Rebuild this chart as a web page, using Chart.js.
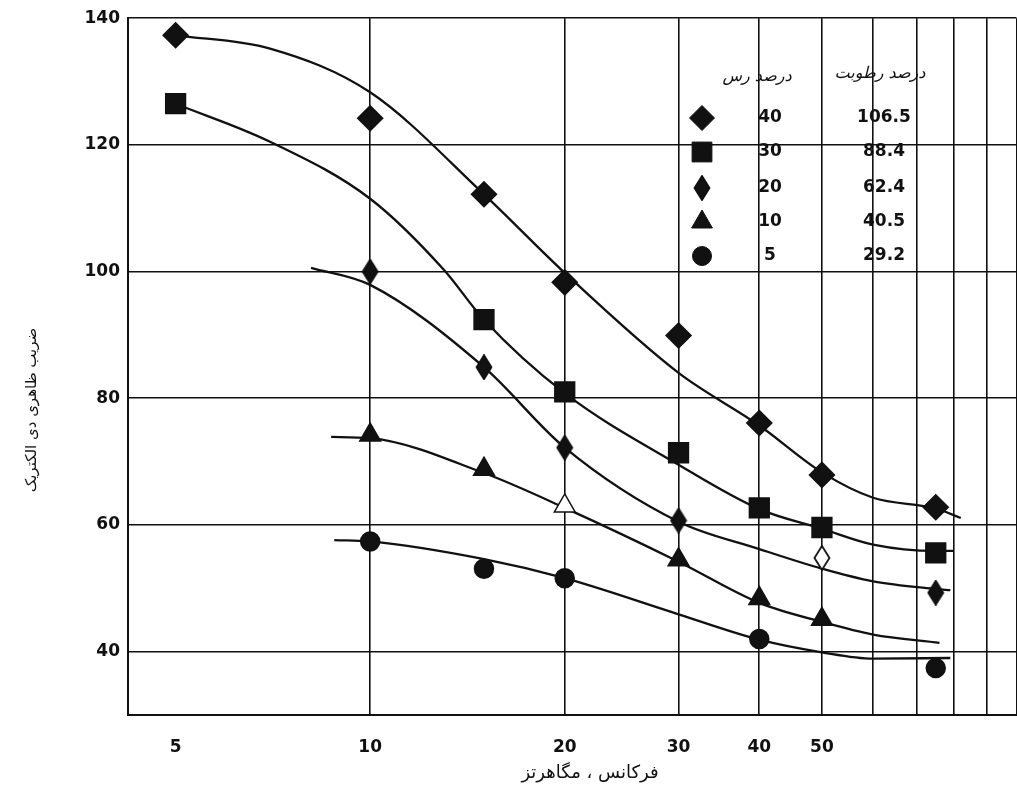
<!DOCTYPE html>
<html>
<head>
<meta charset="utf-8">
<title>ضریب ظاهری دی الکتریک - فرکانس</title>
<script src="https://cdn.jsdelivr.net/npm/chart.js@4.4.0/dist/chart.umd.min.js"></script>
<style>
  html, body { margin: 0; padding: 0; background: #fff; overflow: hidden; }
  /* a bit wider than the window: Chart.js keeps ~15px on the right of the plot */
  #wrap { width: 1032px; height: 791px; position: relative; overflow: hidden; }
  #chart { display: block; }
</style>
</head>
<body>
<div id="wrap"><canvas id="chart"></canvas></div>
<script>
// legend table: clay % and moisture %
const clayPct = [40, 30, 20, 10, 5];
const moisturePct = [106.5, 88.4, 62.4, 40.5, 29.2];

// axes
const xTickLabels = [5, 10, 20, 30, 40, 50];
const xGrid = [10, 20, 30, 40, 50, 60, 70, 80, 90, 100];
const yTicks = [40, 60, 80, 100, 120, 140];

// measured points (frequency MHz, apparent dielectric constant)
const freq40 = [5, 10, 15, 20, 30, 40, 50, 75];
const eps40 = [137.3, 124.2, 112.2, 98.3, 89.9, 76.1, 67.9, 62.8];
const freq30 = [5, 15, 20, 30, 40, 50, 75];
const eps30 = [126.5, 92.4, 81.0, 71.4, 62.7, 59.6, 55.6];
const freq20 = [10, 15, 20, 30, 50, 75];
const eps20 = [100.0, 84.9, 72.2, 60.7, 54.8, 49.3];
const freq10 = [10, 15, 20, 30, 40, 50];
const eps10 = [74.2, 68.8, 63.0, 54.5, 48.4, 45.1];
const freq5 = [10, 15, 20, 40, 75];
const eps5 = [57.4, 53.1, 51.6, 42.0, 37.4];

// hand drawn curves
const fitFreq40 = [5, 7, 10, 15, 20, 30, 40, 50, 60, 75, 82];
const fitEps40 = [137.3, 135.2, 128.3, 112.2, 99.8, 84.0, 75.7, 68.3, 64.3, 62.6, 61.1];
const fitFreq30 = [5, 7, 10, 13, 15, 20, 30, 40, 50, 60, 75, 80];
const fitEps30 = [126.5, 120.5, 111.5, 100.3, 92.4, 80.8, 69.5, 62.5, 59.4, 56.9, 55.9, 55.9];
const fitFreq20 = [8.1, 10, 15, 20, 30, 40, 50, 60, 75, 79];
const fitEps20 = [100.6, 97.9, 84.9, 72.2, 60.5, 56.2, 53.1, 51.1, 49.9, 49.7];
const fitFreq10 = [8.7, 10, 15, 20, 30, 40, 50, 60, 76];
const fitEps10 = [73.9, 73.7, 68.2, 62.7, 54.2, 47.7, 44.7, 42.7, 41.4];
const fitFreq5 = [8.8, 10, 15, 20, 30, 40, 50, 60, 79];
const fitEps5 = [57.6, 57.4, 54.6, 51.6, 45.9, 41.9, 39.9, 38.9, 39.0];

const yTitle = 'ضریب ظاهری دی الکتریک';
const xTitle = 'فرکانس ، مگاهرتز';
const tableHead = ['درصد رس', 'درصد رطوبت'];

const INK = '#111';
const FONT = 'DejaVu Sans';

function pts(xs, ys) {
    return xs.map((x, i) => ({ x: x, y: ys[i] }));
}

// narrow diamond used for the 20% clay series
function thinDiamond(fill) {
    const c = document.createElement('canvas');
    c.width = 18; c.height = 26;
    const g = c.getContext('2d');
    g.beginPath();
    g.moveTo(9, 1); g.lineTo(16.5, 13); g.lineTo(9, 25); g.lineTo(1.5, 13);
    g.closePath();
    g.fillStyle = fill; g.fill();
    g.lineWidth = 1.8; g.strokeStyle = INK; g.stroke();
    return c;
}
const thinSolid = thinDiamond(INK);
const thinHollow = thinDiamond('#fff');

const markers = [
    { pointStyle: 'rectRot', radius: 12.5 },
    { pointStyle: 'rect', radius: 14 },
    { pointStyle: thinSolid, radius: 10 },
    { pointStyle: 'triangle', radius: 12 },
    { pointStyle: 'circle', radius: 9.5 }
];

const measured = [pts(freq40, eps40), pts(freq30, eps30), pts(freq20, eps20), pts(freq10, eps10), pts(freq5, eps5)];
const curves = [pts(fitFreq40, fitEps40), pts(fitFreq30, fitEps30), pts(fitFreq20, fitEps20), pts(fitFreq10, fitEps10), pts(fitFreq5, fitEps5)];

const datasets = [];
curves.forEach(function(c) {
    datasets.push({
        data: c, showLine: true, pointRadius: 0, borderColor: INK, borderWidth: 2.3,
        cubicInterpolationMode: 'monotone', fill: false, order: 2
    });
});
measured.forEach(function(m, i) {
    datasets.push({
        label: clayPct[i] + '%',
        data: m,
        pointStyle: i === 2 ? (c => (c.raw && c.raw.x === 50 ? thinHollow : thinSolid)) : markers[i].pointStyle,
        pointRadius: markers[i].radius,
        backgroundColor: i === 3 ? (c => (c.raw && c.raw.x === 20 ? '#fff' : INK)) : INK,
        borderColor: INK,
        borderWidth: 1.5,
        order: 1
    });
});

// legend table + axis titles
const tablePlugin = {
    id: 'table',
    afterDraw(chart) {
        const ctx = chart.ctx;
        const rows = [118, 152, 188, 222, 256];
        ctx.save();
        ctx.fillStyle = INK;
        ctx.strokeStyle = INK;
        ctx.textAlign = 'center';
        ctx.textBaseline = 'middle';
        ctx.font = 'italic 16px "' + FONT + '"';
        ctx.fillText(tableHead[0], 757, 77);
        ctx.fillText(tableHead[1], 880, 74);
        ctx.font = 'bold 17px "' + FONT + '"';
        rows.forEach(function(y, i) {
            ctx.fillStyle = INK;
            Chart.helpers.drawPoint(ctx, {
                pointStyle: markers[i].pointStyle, radius: markers[i].radius, rotation: 0, borderWidth: 1
            }, 702, y);
            ctx.fillText(String(clayPct[i]), 770, y);
            ctx.fillText(moisturePct[i].toFixed(1), 884, y);
        });
        // axis titles
        ctx.font = '18px "' + FONT + '"';
        ctx.fillText(xTitle, 590, 773);
        ctx.font = '15px "' + FONT + '"';
        ctx.translate(32, 410);
        ctx.rotate(-Math.PI / 2);
        ctx.fillText(yTitle, 0, 0);
        ctx.restore();
    }
};

new Chart(document.getElementById('chart'), {
    type: 'scatter',
    data: { datasets: datasets },
    options: {
        responsive: true,
        maintainAspectRatio: false,
        animation: false,
        layout: { padding: { top: 18, right: 0, bottom: 0, left: 0 } },
        plugins: { legend: { display: false }, tooltip: { enabled: false } },
        scales: {
            x: {
                type: 'logarithmic',
                min: 4.22,
                max: 100,
                afterBuildTicks: function(s) {
                    s.ticks = [5].concat(xGrid).map(v => ({ value: v }));
                },
                afterFit: function(s) {
                    s.height = 76;
                    s.paddingRight = 0;
                    s.paddingLeft = 0;
                },
                grid: {
                    color: c => (c.tick && c.tick.value === 5 ? 'rgba(0,0,0,0)' : INK),
                    lineWidth: 1.6,
                    drawTicks: false
                },
                border: { color: INK, width: 2 },
                ticks: {
                    autoSkip: false, maxRotation: 0, padding: 22, color: INK,
                    font: { family: FONT, size: 17, weight: 'bold' },
                    callback: v => (xTickLabels.includes(v) ? String(v) : '')
                }
            },
            y: {
                min: 30,
                max: 140,
                afterBuildTicks: function(s) {
                    s.ticks = yTicks.map(v => ({ value: v }));
                },
                afterFit: function(s) { s.width = 128; },
                grid: { color: INK, lineWidth: 1.6, drawTicks: false },
                border: { color: INK, width: 2 },
                ticks: {
                    padding: 8, color: INK,
                    font: { family: FONT, size: 17, weight: 'bold' }
                }
            }
        }
    },
    plugins: [tablePlugin]
});
</script>
</body>
</html>
